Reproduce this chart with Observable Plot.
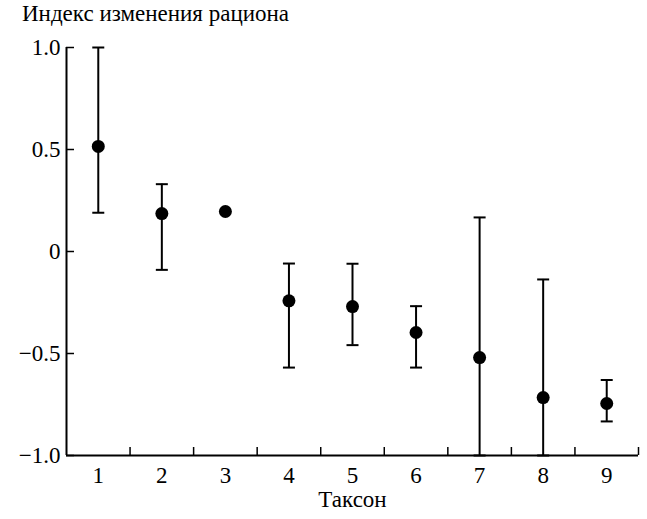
<!DOCTYPE html>
<html><head><meta charset="utf-8">
<script src="https://cdn.jsdelivr.net/npm/d3@7"></script>
<script src="https://cdn.jsdelivr.net/npm/@observablehq/plot@0.6"></script>
<style>
body{margin:0;background:#fff;}
#wrap{position:relative;width:647px;height:519px;}
#title{position:absolute;left:22px;top:1px;font-family:"Liberation Serif","DejaVu Serif","Times New Roman",serif;font-size:23px;color:#000;white-space:nowrap;z-index:2;}
#chart svg{position:absolute;left:0;top:0;}
#chart svg text{font-family:"Liberation Serif","DejaVu Serif","Times New Roman",serif;}
</style></head><body><div id="wrap"><div id="title"></div><div id="chart"></div></div>
<script>
const title = "Индекс изменения рациона";
const xLabel = "Таксон";
const taxa = [1, 2, 3, 4, 5, 6, 7, 8, 9];
const means = [0.515, 0.186, 0.196, -0.242, -0.27, -0.397, -0.52, -0.716, -0.745];
const lows  = [0.19, -0.09, null, -0.569, -0.459, -0.569, -1.0, -1.0, -0.833];
const highs = [1.0, 0.33, null, -0.059, -0.06, -0.268, 0.167, -0.137, -0.63];
const yTicks = [-1, -0.5, 0, 0.5, 1];
const yTickLabels = ["\u22121.0", "\u22120.5", "0", "0.5", "1.0"];
const xDomain = [0.5, 9.5];
const yDomain = [-1, 1];

document.getElementById("title").textContent = title;

const data = taxa.map((t, i) => ({taxon: t, mean: means[i], lo: lows[i], hi: highs[i]}));
const bars = data.filter(d => d.lo != null && d.hi != null);
const boundaries = taxa.map(t => t + 0.5);
const cap = {draw(ctx, size) { const w = Math.sqrt(size / Math.PI); ctx.moveTo(-w, 0); ctx.lineTo(w, 0); }};
const serif = "'Liberation Serif','DejaVu Serif','Times New Roman',serif";

const chart = Plot.plot({
  width: 647, height: 519,
  marginLeft: 66, marginRight: 9, marginTop: 47, marginBottom: 64,
  style: {fontFamily: serif, fontSize: "23px", color: "#000", background: "transparent", overflow: "visible"},
  x: {domain: xDomain, label: null},
  y: {domain: yDomain, label: null},
  marks: [
    Plot.ruleX([xDomain[0]], {strokeWidth: 2}),
    Plot.ruleY([yDomain[0]], {strokeWidth: 2}),
    Plot.axisY(yTicks, {tickSize: 8, dx: 8, tickFormat: () => "", label: null, strokeWidth: 1.5}),
    Plot.axisY(yTicks, {tickSize: 0, tickPadding: 6, tickFormat: d => yTickLabels[yTicks.indexOf(d)], label: null, fontSize: 23, fontFamily: serif}),
    Plot.axisX(boundaries, {tickSize: 8, dy: -8, tickFormat: () => "", label: null, strokeWidth: 1.5}),
    Plot.axisX(taxa, {tickSize: 0, tickPadding: 11, tickFormat: d => String(d), label: null, fontSize: 23, fontFamily: serif}),
    Plot.text([xLabel], {frameAnchor: "bottom", dy: 51, fontSize: 23, fontFamily: serif}),
    Plot.ruleX(bars, {x: "taxon", y1: "lo", y2: "hi", strokeWidth: 2}),
    Plot.dot(bars, {x: "taxon", y: "hi", symbol: cap, r: 6, stroke: "black", fill: "none", strokeWidth: 2}),
    Plot.dot(bars, {x: "taxon", y: "lo", symbol: cap, r: 6, stroke: "black", fill: "none", strokeWidth: 2}),
    Plot.dot(data, {x: "taxon", y: "mean", r: 6.5, fill: "black", stroke: "none"})
  ]
});
document.getElementById("chart").appendChild(chart);
</script></body></html>
